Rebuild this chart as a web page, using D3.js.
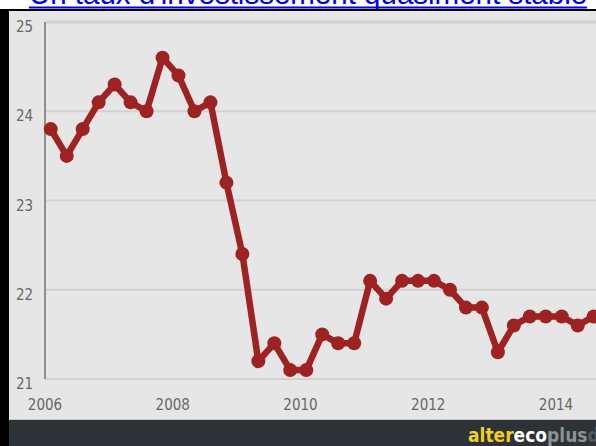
<!DOCTYPE html>
<html>
<head>
<meta charset="utf-8">
<script src="https://cdn.jsdelivr.net/npm/d3@7"></script>
<style>
  body { margin: 0; background: #fff; overflow: hidden; }
  svg { display: block; }
</style>
</head>
<body>
<script>
// quarterly rate, 2006 Q1 -> 2014 Q3
var rate = [23.8,23.5,23.8,24.1, 24.3,24.1,24.0,24.6, 24.4,24.0,24.1,23.2,
            22.4,21.2,21.4,21.1, 21.1,21.5,21.4,21.4, 22.1,21.9,22.1,22.1,
            22.1,22.0,21.8,21.8, 21.3,21.6,21.7,21.7, 21.7,21.6,21.7];
var startYear = 2006;
var yTicks = [21,22,23,24,25];
var xTicks = [2006,2008,2010,2012,2014];
var title = "Un taux d'investissement quasiment stable";

var W = 596, H = 446;
var svg = d3.select("body").append("svg").attr("width", W).attr("height", H);

var x = d3.scaleLinear().domain([2006, 2014]).range([45, 556]);
var y = d3.scaleLinear().domain([21, 25]).range([379, 22]);

// title link, cut by the top of the window
var t = svg.append("text").attr("x", 308).attr("y", 4)
    .attr("text-anchor", "middle")
    .style("font-family", "Liberation Sans, Arial, sans-serif")
    .style("font-size", "29.5px")
    .attr("fill", "#0000ee")
    .text(title);
var tw = t.node().getComputedTextLength();
svg.append("rect").attr("x", 308 - tw/2).attr("y", 6.5).attr("width", tw).attr("height", 2).attr("fill", "#0000ee");

// frame
svg.append("rect").attr("x", 0).attr("y", 9).attr("width", W).attr("height", H-9).attr("fill", "#000");
svg.append("rect").attr("x", 9).attr("y", 11).attr("width", W-9).attr("height", 409).attr("fill", "#e6e6e6");
svg.append("rect").attr("x", 9).attr("y", 420).attr("width", W-9).attr("height", 26).attr("fill", "#2c3235");
svg.append("rect").attr("x", 9).attr("y", 419).attr("width", W-9).attr("height", 1).attr("fill", "#c8c8c8");

// grid
svg.selectAll("line.grid").data(yTicks).enter().append("line")
    .attr("class", "grid")
    .attr("x1", 45).attr("x2", W)
    .attr("y1", function(d) { return y(d); })
    .attr("y2", function(d) { return y(d); })
    .attr("stroke", "#d2d2d2")
    .attr("stroke-width", function(d) { return d == 25 ? 3 : 2; });

svg.append("line").attr("x1", 45).attr("x2", 45).attr("y1", y(25)).attr("y2", y(21))
    .attr("stroke", "#555").attr("stroke-width", 1.2);

var lab = "Liberation Sans Narrow, DejaVu Sans Condensed, sans-serif";

svg.selectAll("text.ylab").data(yTicks).enter().append("text")
    .attr("class", "ylab")
    .attr("x", 16)
    .attr("y", function(d) { return y(d) + 10; })
    .style("font-family", lab).style("font-size", "15px")
    .attr("fill", "#666")
    .text(function(d) { return d; });

svg.selectAll("text.xlab").data(xTicks).enter().append("text")
    .attr("class", "xlab")
    .attr("x", function(d) { return x(d); })
    .attr("y", 410)
    .attr("text-anchor", "middle")
    .style("font-family", lab).style("font-size", "15px")
    .attr("fill", "#666")
    .text(function(d) { return d; });

// series
var pts = rate.map(function(v, i) { return { t: startYear + i*0.25 + 0.09, v: v }; });
var line = d3.line().x(function(d) { return x(d.t); }).y(function(d) { return y(d.v); });

svg.append("path").datum(pts)
    .attr("d", line)
    .attr("fill", "none")
    .attr("stroke", "#9e2222")
    .attr("stroke-width", 6.5)
    .attr("stroke-linejoin", "round");

svg.selectAll("circle").data(pts).enter().append("circle")
    .attr("cx", function(d) { return x(d.t); })
    .attr("cy", function(d) { return y(d.v); })
    .attr("r", 7)
    .attr("fill", "#9e2222");

// logo
var logo = svg.append("text").attr("x", 468).attr("y", 442)
    .style("font-family", lab).style("font-size", "19px").style("font-weight", "bold");
logo.append("tspan").attr("fill", "#f2d024").text("alter");
logo.append("tspan").attr("fill", "#ffffff").text("eco");
logo.append("tspan").attr("fill", "#8c9396").text("plus");
logo.append("tspan").attr("fill", "#525a5e").text("data");
</script>
</body>
</html>
